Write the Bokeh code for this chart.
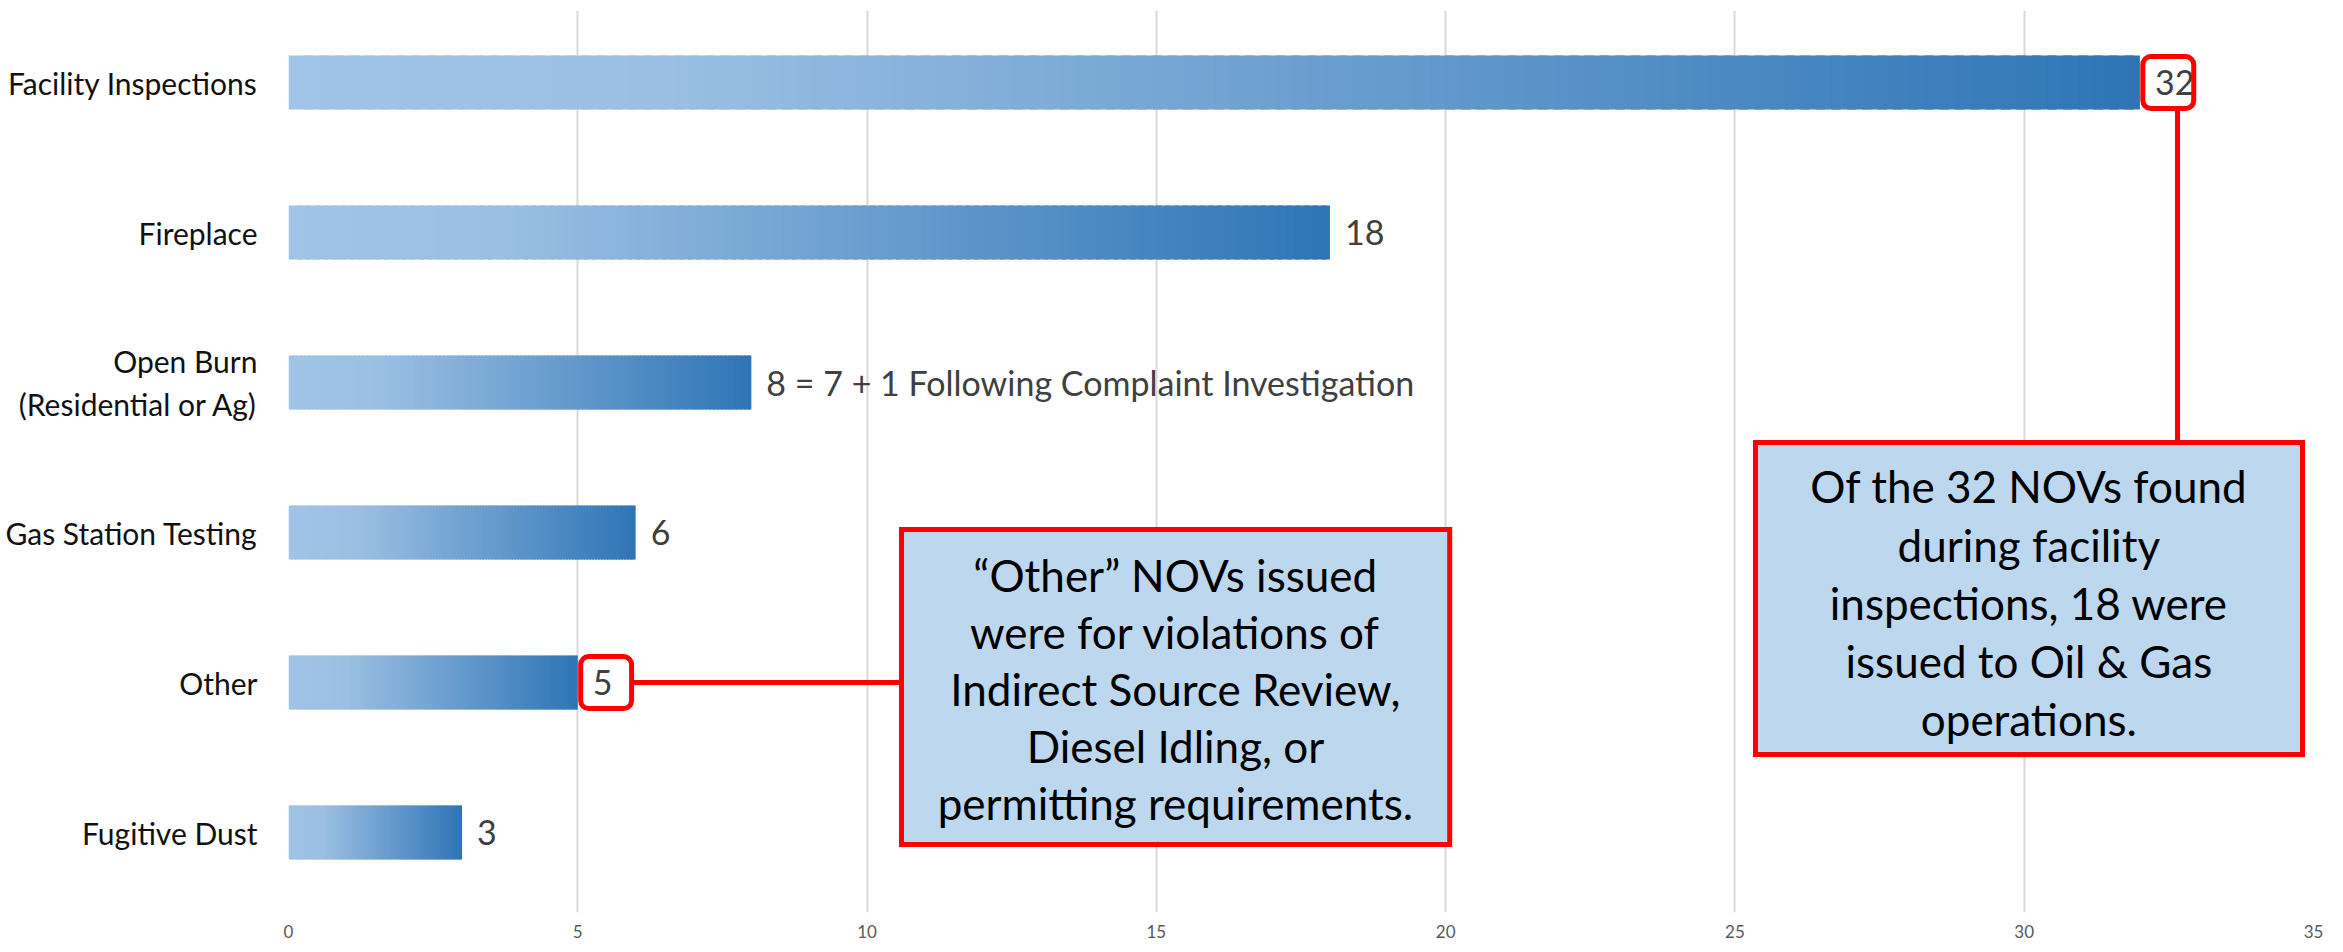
from bokeh.plotting import figure
from bokeh.models import Range1d, FixedTicker, BoxAnnotation, ColumnDataSource
from bokeh.core.properties import value
from bokeh.embed import file_html
from bokeh.resources import INLINE

# ---------------- data ----------------
categories = ["Facility Inspections", "Fireplace", "Open Burn\n(Residential or Ag)",
              "Gas Station Testing", "Other", "Fugitive Dust"]
counts = [32, 18, 8, 6, 5, 3]
value_labels = ["32", "18", "8 = 7 + 1 Following Complaint Investigation", "6", "5", "3"]
x_ticks = [0, 5, 10, 15, 20, 25, 30, 35]

note_other = ["\u201cOther\u201d NOVs issued", "were for violations of",
              "Indirect Source Review,", "Diesel Idling, or", "permitting requirements."]
note_facility = ["Of the 32 NOVs found", "during facility", "inspections, 18 were",
                 "issued to Oil & Gas", "operations."]

# categories from top to bottom -> numeric positions
positions = [len(categories) - 1 - i for i in range(len(categories))]

FONT = "Lato"

p = figure(width=2335, height=944,
           x_range=Range1d(0, 35), y_range=Range1d(-0.533, 5.48),
           output_backend="svg", toolbar_location=None,
           min_border_left=288, min_border_right=22,
           min_border_top=10, min_border_bottom=32)
p.outline_line_color = None
p.background_fill_color = "white"

# axes
p.xaxis.ticker = FixedTicker(ticks=x_ticks)
p.xgrid.ticker = FixedTicker(ticks=x_ticks)
p.xgrid.grid_line_color = "#D9D9D9"
p.xgrid.grid_line_width = 2
p.ygrid.grid_line_color = None
p.xaxis.axis_line_color = None
p.xaxis.major_tick_line_color = None
p.xaxis.minor_tick_line_color = None
p.xaxis.major_tick_out = 0
p.xaxis.major_label_standoff = 12
p.xaxis.major_label_text_font = FONT
p.xaxis.major_label_text_font_size = "17px"
p.xaxis.major_label_text_color = "#595959"

p.yaxis.ticker = FixedTicker(ticks=positions)
p.yaxis.major_label_overrides = {pos: cat for pos, cat in zip(positions, categories)}
p.yaxis.axis_line_color = None
p.yaxis.major_tick_line_color = None
p.yaxis.minor_tick_line_color = None
p.yaxis.major_tick_out = 0
p.yaxis.major_label_standoff = 31
p.yaxis.major_label_text_font = FONT
p.yaxis.major_label_text_font_size = "30px"
p.yaxis.major_label_text_color = "#111111"

# gradient bars (drawn as thin slices)
stops = [(0.0, (160, 196, 231)), (0.2, (155, 191, 227)), (1.0, (46, 117, 182))]


def grad(t):
    for (t0, c0), (t1, c1) in zip(stops[:-1], stops[1:]):
        if t0 <= t <= t1:
            f = (t - t0) / (t1 - t0)
            r, g, b = (round(a + (bb - a) * f) for a, bb in zip(c0, c1))
            return "#%02x%02x%02x" % (r, g, b)
    return "#%02x%02x%02x" % stops[-1][1]


N = 120
ys, lefts, rights, cols = [], [], [], []
for pos, v in zip(positions, counts):
    for i in range(N):
        ys.append(pos)
        lefts.append(v * i / N)
        rights.append(min(v, v * (i + 1.6) / N))
        cols.append(grad((i + 0.5) / N))
src = ColumnDataSource(dict(y=ys, left=lefts, right=rights, color=cols))
p.hbar(y="y", left="left", right="right", height=0.36, fill_color="color",
       line_color=None, source=src)

# value labels
p.text(x=counts, y=positions, text=value_labels, x_offset=15,
       text_font=value(FONT), text_font_size="34px", text_color="#404040",
       text_baseline="middle", text_align="left")

# highlight boxes around "32" and "5"
for idx in (0, 4):
    v, pos = counts[idx], positions[idx]
    p.add_layout(BoxAnnotation(left=v + 0.05, right=v + 0.93,
                               bottom=pos - 0.173, top=pos + 0.173,
                               fill_alpha=0, line_color="#FF0000", line_alpha=1.0,
                               line_width=5, border_radius=8))

# connector lines
p.segment(x0=[counts[4] + 0.93], y0=[positions[4]], x1=[10.6], y1=[positions[4]],
          line_color="#FF0000", line_width=5)
p.segment(x0=[32.65], y0=[positions[0] - 0.173], x1=[32.65], y1=[2.6],
          line_color="#FF0000", line_width=5)

# callout boxes
p.quad(left=[10.595, 25.355], right=[20.07, 34.81], top=[2.02, 2.60],
       bottom=[-0.08, 0.52], fill_color="#BDD7EE", line_color="#FF0000",
       line_width=5, line_join="miter")

p.text(x=[15.33] * 5, y=[1.72 - 0.38 * i for i in range(5)], text=note_other,
       text_font=value(FONT), text_font_size="44px", text_color="#000000",
       text_align="center", text_baseline="middle")
p.text(x=[30.08] * 5, y=[2.307 - 0.388 * i for i in range(5)], text=note_facility,
       text_font=value(FONT), text_font_size="44px", text_color="#000000",
       text_align="center", text_baseline="middle")

open("out.html", "w").write(file_html(p, INLINE))
